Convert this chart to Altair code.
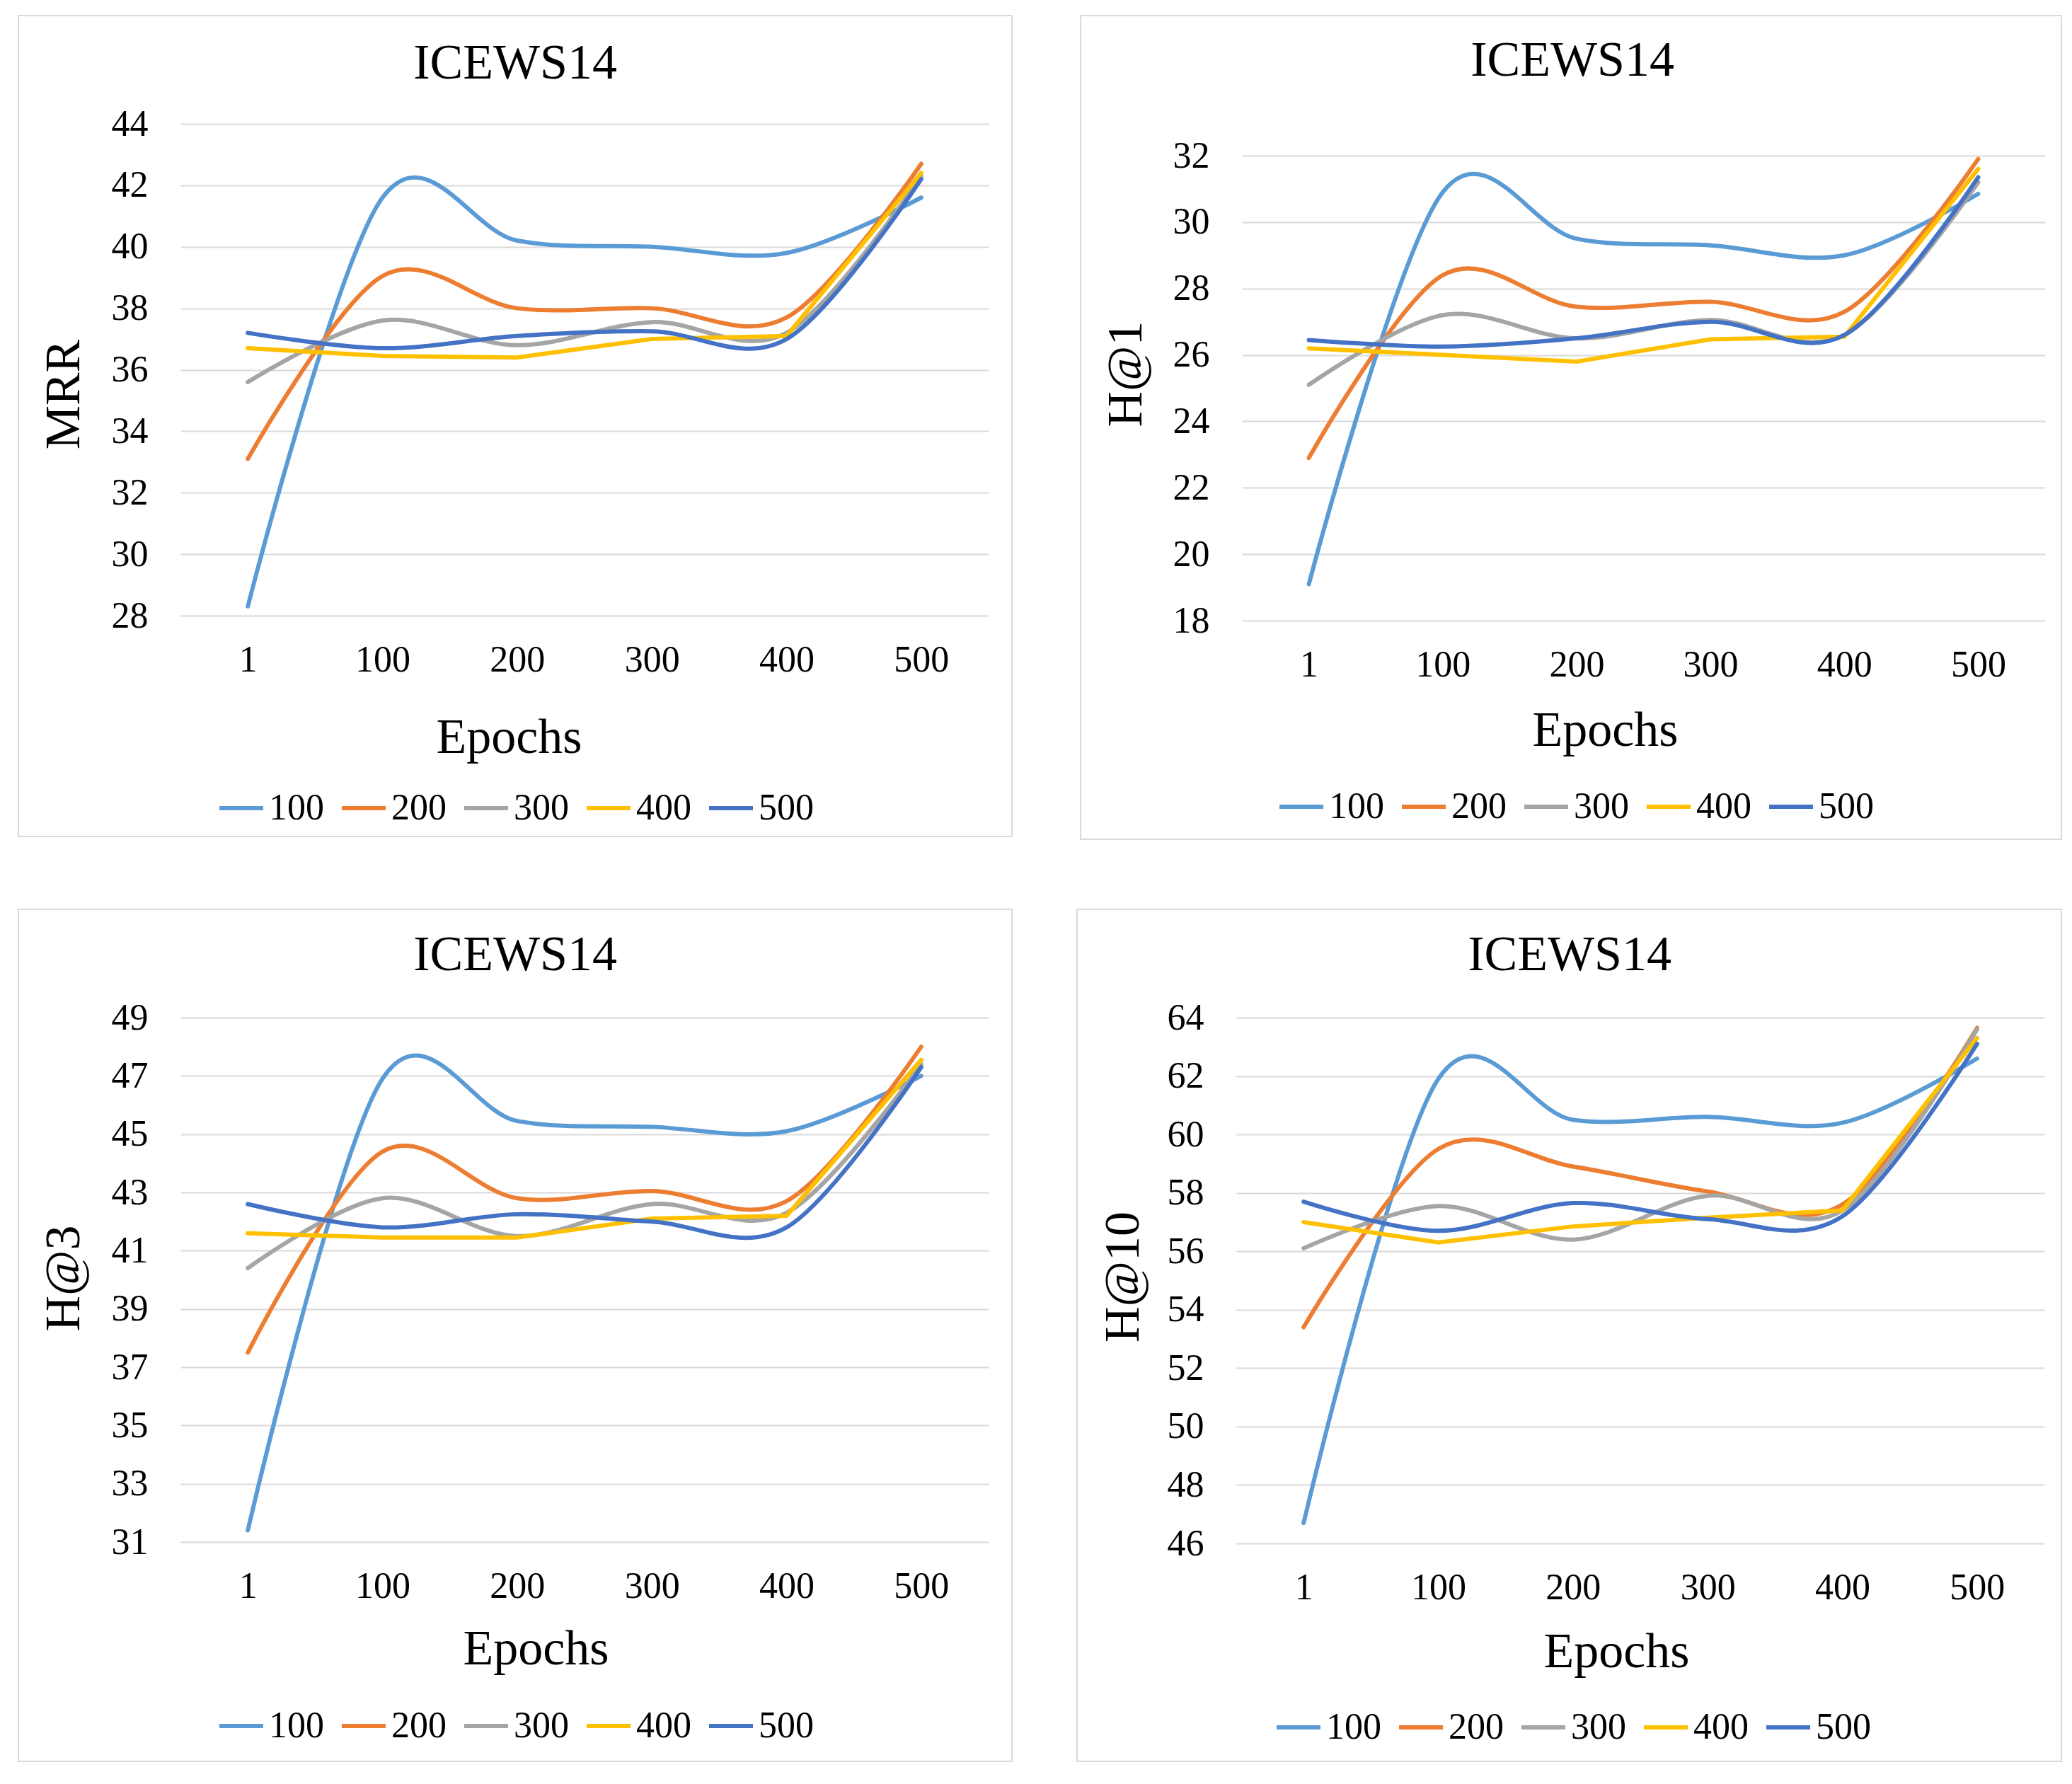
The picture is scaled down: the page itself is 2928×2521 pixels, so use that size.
import altair as alt
import pandas as pd

FONT = "Liberation Serif"

epochs = ["1", "100", "200", "300", "400", "500"]
series = ["100", "200", "300", "400", "500"]
colors = ["#5B9BD5", "#ED7D31", "#A5A5A5", "#FFC000", "#4472C4"]

# MRR
mrr_100 = [28.3, 41.6, 40.2, 40.0, 39.8, 41.6]
mrr_200 = [33.1, 39.05, 38.0, 38.0, 37.7, 42.7]
mrr_300 = [35.6, 37.6, 36.8, 37.55, 37.2, 42.3]
mrr_400 = [36.7, 36.45, 36.4, 37.0, 37.1, 42.4]
mrr_500 = [37.2, 36.7, 37.1, 37.25, 37.0, 42.2]

# H@1
h1_100 = [19.1, 30.9, 29.5, 29.3, 29.0, 30.85]
h1_200 = [22.9, 28.4, 27.45, 27.6, 27.3, 31.9]
h1_300 = [25.1, 27.2, 26.5, 27.05, 26.6, 31.2]
h1_400 = [26.2, 26.0, 25.8, 26.47, 26.55, 31.6]
h1_500 = [26.45, 26.25, 26.5, 27.0, 26.6, 31.35]

# H@3
h3_100 = [31.4, 46.9, 45.45, 45.25, 45.1, 47.0]
h3_200 = [37.5, 44.4, 42.8, 43.05, 42.7, 48.0]
h3_300 = [40.4, 42.8, 41.5, 42.6, 42.3, 47.4]
h3_400 = [41.6, 41.45, 41.45, 42.1, 42.2, 47.55]
h3_500 = [42.6, 41.8, 42.25, 42.0, 41.8, 47.3]

# H@10
h10_100 = [46.7, 61.9, 60.5, 60.6, 60.4, 62.6]
h10_200 = [53.4, 59.5, 58.9, 58.05, 57.6, 63.65]
h10_300 = [56.1, 57.55, 56.4, 57.9, 57.4, 63.6]
h10_400 = [57.0, 56.3, 56.85, 57.15, 57.4, 63.3]
h10_500 = [57.7, 56.7, 57.65, 57.1, 57.2, 63.1]

title_text = "ICEWS14"
x_title = "Epochs"


def make_df(vals):
    rows = []
    for s, v in zip(series, vals):
        for e, y in zip(epochs, v):
            rows.append({"Epoch": e, "Series": s, "Value": y})
    return pd.DataFrame(rows)


def panel(vals, ytitle, ymin, ymax, g):
    df = make_df(vals)
    x = alt.X(
        "Epoch:O", sort=epochs,
        scale=alt.Scale(type="point", padding=0.5),
        axis=alt.Axis(
            title=x_title, labelAngle=0, grid=False, domain=False, ticks=False, tickSize=0,
            labelPadding=62, labelBaseline="middle", labelFontSize=52, labelFont=FONT,
            labelColor="black", titleFont=FONT, titleFontSize=70, titleFontWeight="normal",
            titleColor="black", titleX=g["xtx"], titleY=g["xty"], titleBaseline="middle",
            titleAlign="center",
        ),
    )
    y = alt.Y(
        "Value:Q",
        scale=alt.Scale(domain=[ymin, ymax], nice=False, zero=False,
                        range=[g["h"], g["top"]]),
        axis=alt.Axis(
            values=list(range(ymin, ymax + 1, 2)), title=ytitle, grid=True,
            gridColor="#D9D9D9", gridWidth=2, domain=False, ticks=False, tickSize=0,
            labelPadding=46, labelFontSize=52, labelFont=FONT, labelColor="black",
            titleFont=FONT, titleFontSize=70, titleFontWeight="normal", titleColor="black",
            titleX=g["ytx"], titleY=g["yty"], titleBaseline="middle", titleAlign="center",
            titleAngle=270,
        ),
    )
    color = alt.Color(
        "Series:N", sort=series,
        scale=alt.Scale(domain=series, range=colors),
        legend=alt.Legend(
            title=None, orient="none", legendX=g["lx"], legendY=g["ly"],
            direction="horizontal", symbolType="stroke", symbolSize=3844,
            symbolStrokeWidth=6, labelFont=FONT, labelFontSize=52, labelColor="black",
            labelOffset=5, columnPadding=13, padding=0, labelBaseline="middle",
        ),
    )
    one = pd.DataFrame({"k": [0]})
    border = alt.Chart(one).mark_rect(
        fillOpacity=0, stroke="#D9D9D9", strokeWidth=2
    ).encode(
        x=alt.value(g["rx1"]), x2=alt.value(g["rx2"]),
        y=alt.value(g["ry1"]), y2=alt.value(g["ry2"]),
    )
    smooth_a = alt.Chart(df[df.Series.isin(["100", "200", "300"])]).mark_line(
        interpolate="cardinal", strokeWidth=6, strokeCap="round"
    ).encode(x=x, y=y, color=color)
    linear_b = alt.Chart(df[df.Series == "400"]).mark_line(
        strokeWidth=6, strokeCap="round"
    ).encode(x=x, y=y, color=color)
    smooth_c = alt.Chart(df[df.Series == "500"]).mark_line(
        interpolate="cardinal", strokeWidth=6, strokeCap="round"
    ).encode(x=x, y=y, color=color)
    title = alt.Chart(one).mark_text(
        text=title_text, font=FONT, fontSize=70, color="black",
        baseline="middle", align="center",
    ).encode(x=alt.value(g["tx"]), y=alt.value(g["ty"]))
    return alt.layer(border, smooth_a, linear_b, smooth_c, title).properties(
        width=g["w"], height=g["h"]
    )


g_tl = dict(w=1142, h=695, top=0, rx1=-229, rx2=1175, ry1=-153, ry2=1007, tx=473, ty=-85,
            ytx=-165, yty=382, xtx=464, xty=172, lx=52, ly=933)
g_tr = dict(w=1135, h=702, top=45, rx1=-228, rx2=1158, ry1=-153, ry2=1011, tx=467, ty=-89,
            ytx=-164, yty=353, xtx=513, xty=155, lx=50, ly=931)
g_bl = dict(w=1142, h=741, top=0, rx1=-229, rx2=1175, ry1=-153, ry2=1051, tx=473, ty=-88,
            ytx=-165, yty=368, xtx=502, xty=151, lx=52, ly=967)
g_br = dict(w=1142, h=743, top=0, rx1=-225, rx2=1166, ry1=-153, ry2=1051, tx=471, ty=-88,
            ytx=-160, yty=366, xtx=537, xty=153, lx=54, ly=969)

p1 = panel([mrr_100, mrr_200, mrr_300, mrr_400, mrr_500], "MRR", 28, 44, g_tl)
p2 = panel([h1_100, h1_200, h1_300, h1_400, h1_500], "H@1", 18, 32, g_tr)
p3 = panel([h3_100, h3_200, h3_300, h3_400, h3_500], "H@3", 31, 49, g_bl)
p4 = panel([h10_100, h10_200, h10_300, h10_400, h10_500], "H@10", 46, 64, g_br)

row1 = alt.hconcat(p1, p2, spacing=95).resolve_scale(color="independent").resolve_legend(color="independent")
row2 = alt.hconcat(p3, p4, spacing=90).resolve_scale(color="independent").resolve_legend(color="independent")

chart = alt.vconcat(row1, row2, spacing=97).resolve_scale(
    color="independent"
).resolve_legend(color="independent").properties(
    padding={"left": 17, "top": 13, "right": 2, "bottom": 2},
    background="white",
).configure_view(strokeWidth=0)

chart.save("out.html", embed_options={"renderer": "svg", "actions": False})
